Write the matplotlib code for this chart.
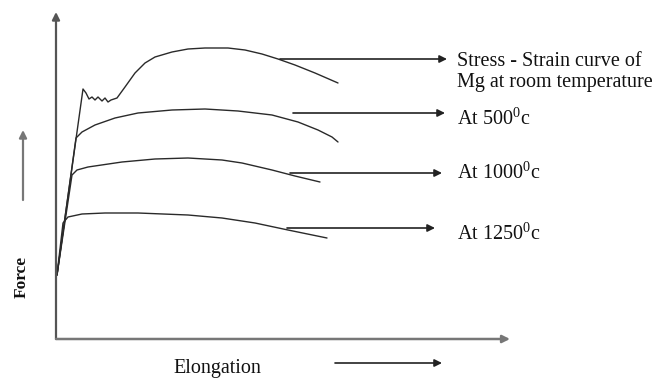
import numpy as np
import matplotlib
matplotlib.use("Agg")
import matplotlib.pyplot as plt

plt.rcParams['font.family'] = ['Liberation Serif', 'DejaVu Serif']
plt.rcParams['mathtext.fontset'] = 'custom'
plt.rcParams['mathtext.rm'] = 'Liberation Serif'

# elongation / force readings (arbitrary units, origin at the axes corner)
room_x = [1, 27, 30, 33, 36, 39, 42, 46, 49, 52, 55, 61, 69, 79, 89, 99, 116, 132, 149, 172, 189, 206, 222, 239, 259, 282]
room_y = [64, 250, 246, 240, 242, 239, 242, 238, 241, 237, 239, 241, 252, 266, 276, 282, 287, 290, 291, 291, 289, 285, 280, 274, 266, 256]

t500_x = [1, 20, 26, 39, 59, 82, 116, 149, 182, 216, 242, 262, 276, 282]
t500_y = [64, 201, 207, 214, 221, 226, 229, 230, 228, 224, 217, 209, 202, 197]

t1000_x = [1, 16, 21, 32, 66, 99, 132, 166, 186, 216, 239, 264]
t1000_y = [64, 164, 169, 172, 177, 180, 181, 179, 176, 169, 163, 157]

t1250_x = [1, 7, 12, 26, 49, 82, 132, 166, 199, 232, 271]
t1250_y = [64, 116, 122, 125, 126, 126, 124, 121, 116, 109, 101]

labels = ["Stress - Strain curve of\nMg at room temperature",
          "At 500$^{0}$c", "At 1000$^{0}$c", "At 1250$^{0}$c"]
arrow_y = [280, 226, 166, 111]
arrow_x0 = [224, 237, 234, 231]
arrow_x1 = [391, 389, 386, 379]
label_y = [267, 220, 166, 105]

fig = plt.figure(figsize=(6.64, 3.79), dpi=100)
ax = fig.add_axes([0, 0, 1, 1])
ax.set_xlim(-56, 608)
ax.set_ylim(-40, 339)
ax.axis('off')

curve_kw = dict(color='#2a2a2a', lw=1.0, solid_joinstyle='round', solid_capstyle='round')
for xs, ys in [(room_x, room_y), (t500_x, t500_y), (t1000_x, t1000_y), (t1250_x, t1250_y)]:
    ax.plot(xs, ys, **curve_kw)

def arrow(x0, y0, x1, y1, color='#222222', lw=1.2):
    ax.annotate('', xy=(x1, y1), xytext=(x0, y0),
                arrowprops=dict(arrowstyle='-|>', color=color, lw=lw,
                                mutation_scale=11, shrinkA=0, shrinkB=0))

# axes
arrow(0, 0, 0, 327, color='#555555', lw=1.6)
arrow(0, 0, 454, 0, color='#777777', lw=1.8)
arrow(279, -24, 386, -24)
arrow(-33, 139, -33, 209, color='#777777', lw=1.6)

for lab, ay, x0, x1, ly in zip(labels, arrow_y, arrow_x0, arrow_x1, label_y):
    arrow(x0, ay, x1, ay)
    ax.text(401, ly, lab, fontsize=14.5, ha='left', va='center',
            linespacing=1.15, color='#111111')

ax.text(161, -29, "Elongation", fontsize=14.5, ha='center', va='center', color='#111111')
ax.text(-34, 62, "Force", fontsize=12.5, fontweight='bold', rotation=90,
        ha='center', va='center', color='#111111')

fig.savefig("out.png", dpi=100)
